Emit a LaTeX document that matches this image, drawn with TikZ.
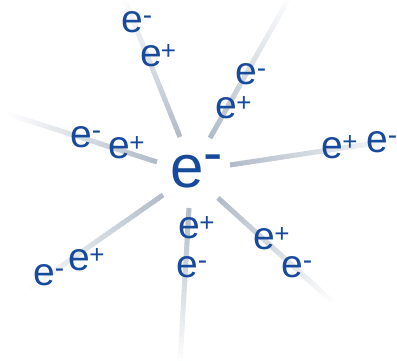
\documentclass[tikz,border=0pt]{standalone}
\usepackage{fontspec}
\setmainfont{Liberation Sans}
\usetikzlibrary{calc}
\definecolor{electronblue}{RGB}{24,74,156}
\definecolor{raygray}{RGB}{178,188,200}
\newcommand{\elpos}{e\kern-1pt\raisebox{7pt}{\fontsize{26}{26}\selectfont +}}
\newcommand{\elneg}{e\kern-0.5pt\raisebox{8pt}{\fontsize{28}{28}\selectfont -}}
\tikzset{
  particle/.style={
    font=\fontsize{39}{39}\selectfont,
    text=electronblue,
    inner sep=0pt,
    anchor=base west
  },
  core/.style={
    font=\fontsize{60}{60}\selectfont,
    text=electronblue,
    inner sep=0pt,
    anchor=base west
  },
  raypart/.style={
    line width=5pt,
    line cap=butt
  }
}
% ray fading from #1 (grey) to #2 (white)
\newcommand{\fadingray}[2]{%
  \foreach \i in {0,...,29}{
    \pgfmathsetmacro{\shadepct}{100-100*\i/30}
    \draw[raypart, raygray!\shadepct!white] ($(#1)!{\i/30}!(#2)$) -- ($(#1)!{(\i+1.2)/30}!(#2)$);
  }}

\begin{document}
\begin{tikzpicture}[x=1pt,y=-1pt]
\useasboundingbox (0,0) rectangle (397,361);
% rays
\coordinate (r1a) at (180,137);
\coordinate (r1b) at (124,-2);
\coordinate (r2a) at (157,162);
\coordinate (r2b) at (8,114);
\coordinate (r3a) at (210,138);
\coordinate (r3b) at (289,-2);
\coordinate (r4a) at (230,165);
\coordinate (r4b) at (402,139);
\coordinate (r5a) at (163,195);
\coordinate (r5b) at (30,288);
\coordinate (r6a) at (189,208);
\coordinate (r6b) at (180,363);
\coordinate (r7a) at (218,198);
\coordinate (r7b) at (334,303);
\fadingray{r1a}{r1b}
\fadingray{r2a}{r2b}
\fadingray{r3a}{r3b}
\fadingray{r4a}{r4b}
\fadingray{r5a}{r5b}
\fadingray{r6a}{r6b}
\fadingray{r7a}{r7b}
% centre
\node[core] (centre) at (170.5,187) {e\kern-1pt\raisebox{15pt}{\fontsize{58}{58}\selectfont -}};
% pairs
\node[particle] (n1) at (121.5,33) {\elneg};
\node[particle] (p1) at (140,67) {\elpos};
\node[particle] (n2) at (70.5,147) {\elneg};
\node[particle] (p2) at (108.5,159) {\elpos};
\node[particle] (n3) at (235.5,85) {\elneg};
\node[particle] (p3) at (215.5,119) {\elpos};
\node[particle] (p4) at (321.5,158) {\elpos};
\node[particle] (n4) at (366.5,153) {\elneg};
\node[particle] (n5) at (33.5,285) {\elneg};
\node[particle] (p5) at (68.5,270) {\elpos};
\node[particle] (p6) at (178.5,238) {\elpos};
\node[particle] (n6) at (176.5,277) {\elneg};
\node[particle] (p7) at (253.5,250) {\elpos};
\node[particle] (n7) at (281.5,277) {\elneg};
\end{tikzpicture}
\end{document}
